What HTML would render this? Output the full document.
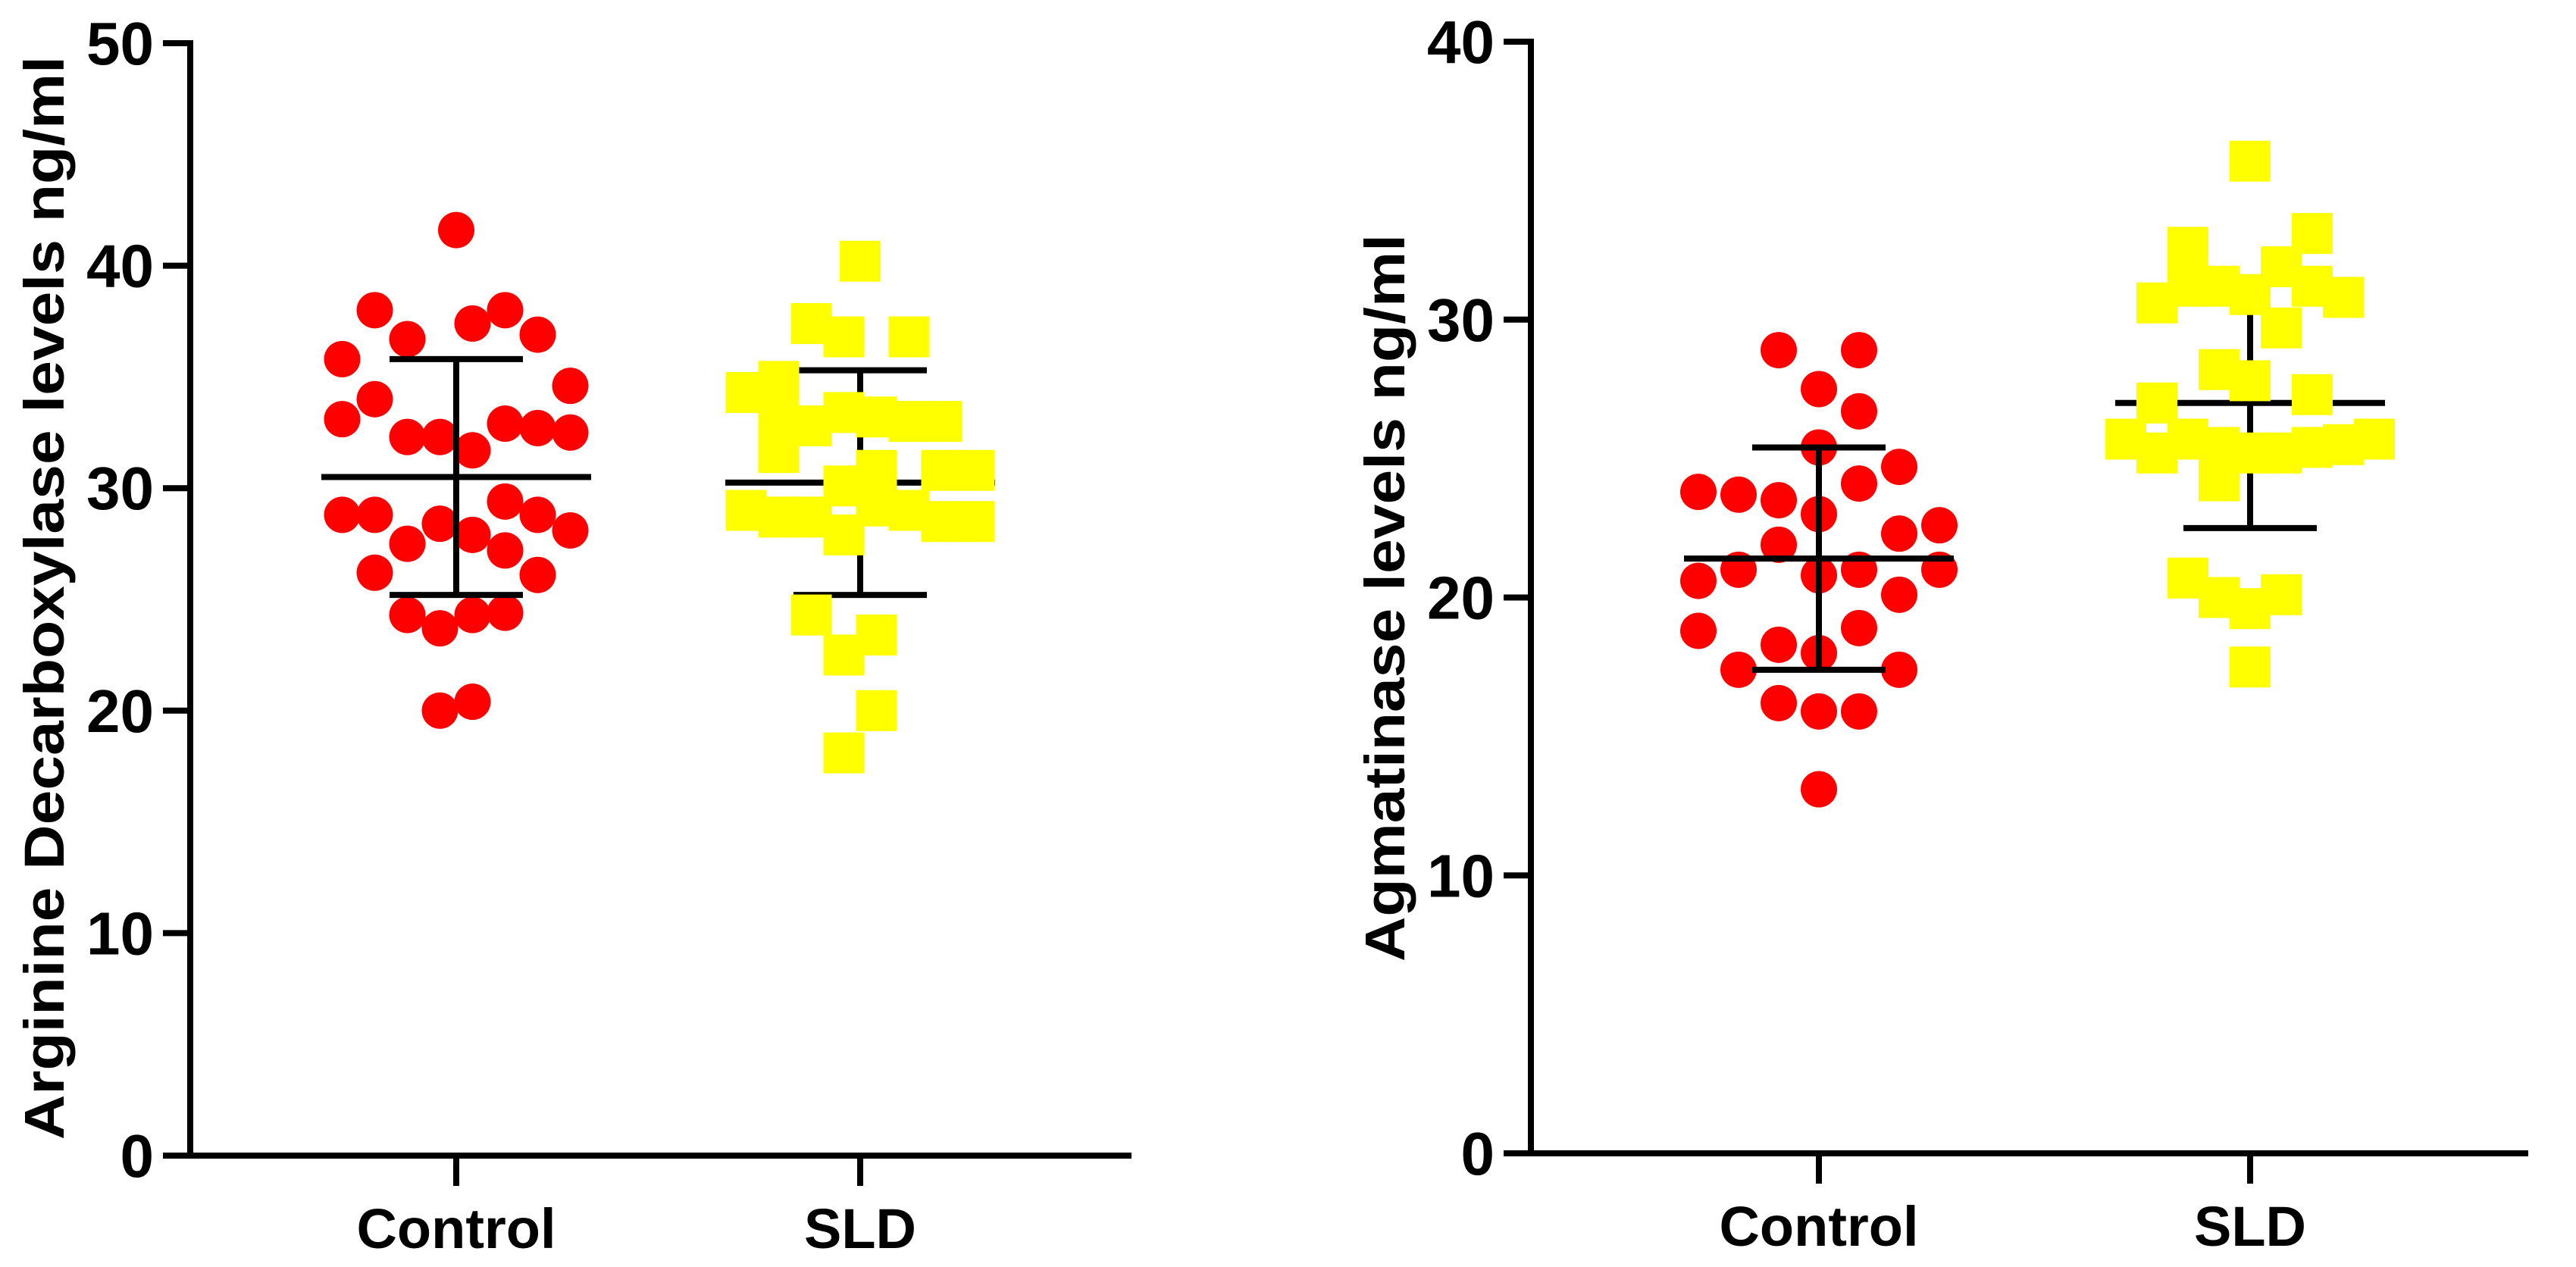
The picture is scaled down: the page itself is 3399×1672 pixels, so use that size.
<!DOCTYPE html>
<html><head><meta charset="utf-8"><style>
html,body{margin:0;padding:0;background:#fff;}
svg{display:block;}
text{font-family:"Liberation Sans",Arial,sans-serif;font-weight:bold;fill:#000;}
</style></head><body>
<svg id="fig" width="3399" height="1672" viewBox="0 0 3399 1672" xmlns="http://www.w3.org/2000/svg">
<g id="p1"></g>
<g id="p2"></g>
</svg>
<script>
// ---- Chart 1 data: Arginine Decarboxylase ----
const adcCategories = ["Control", "SLD"];
const adcYTicks = [0, 10, 20, 30, 40, 50];
const adcControlValues = [41.6,38.0,38.0,37.4,36.7,36.9,35.8,34.0,34.6,33.1,32.9,32.7,32.5,32.3,32.3,31.7,28.8,28.8,28.4,29.4,28.8,28.1,27.5,27.9,27.2,26.2,26.1,24.3,23.7,24.3,24.4,20.0,20.4];
const adcControlSlots = [0,-2.5,1.5,0.5,-1.5,2.5,-3.5,-2.5,3.5,-3.5,1.5,2.5,3.5,-1.5,-0.5,0.5,-3.5,-2.5,-0.5,1.5,2.5,3.5,-1.5,0.5,1.5,-2.5,2.5,-1.5,-0.5,0.5,1.5,-0.5,0.5];
const adcSldValues = [40.2,37.4,36.8,36.8,34.3,34.8,33.0,32.8,33.4,33.2,33.0,33.0,31.6,30.1,30.8,30.8,30.8,29.0,28.7,28.7,27.9,29.2,29.0,28.5,28.5,24.3,23.4,22.5,20.0,18.1];
const adcSldSlots = [0,-1.5,-0.5,1.5,-3.5,-2.5,-2.5,-1.5,-0.5,0.5,1.5,2.5,-2.5,-0.5,0.5,2.5,3.5,-3.5,-2.5,-1.5,-0.5,0.5,1.5,2.5,3.5,-1.5,0.5,-0.5,0.5,-0.5];
const adcMeans = [30.5, 30.25];
const adcSds = [5.3, 5.05];

// ---- Chart 2 data: Agmatinase ----
const agmCategories = ["Control", "SLD"];
const agmYTicks = [0, 10, 20, 30, 40];
const agmControlValues = [28.9,28.9,27.5,26.7,25.4,24.7,24.1,23.8,23.7,23.5,23.0,22.3,22.6,21.9,20.6,21.0,20.8,21.0,21.0,20.1,18.8,18.9,18.3,18.0,17.4,17.4,16.2,15.9,15.9,13.1];
const agmControlSlots = [-1,1,0,1,0,2,1,-3,-2,-1,0,2,3,-1,-3,-2,0,1,3,2,-3,1,-1,0,-2,2,-1,0,1,0];
const agmSldValues = [35.7,32.6,33.1,31.9,30.6,31.2,31.2,30.9,29.7,31.2,30.8,28.2,27.8,27.0,27.3,25.7,25.2,25.7,25.4,25.2,25.2,25.4,25.5,25.7,24.2,20.7,20.0,19.6,20.1,17.5];
const agmSldSlots = [0,-2,2,1,-3,-2,-1,0,1,2,3,-1,0,-3,2,-4,-3,-2,-1,0,1,2,3,4,-1,-2,-1,0,1,0];
const agmMeans = [21.4, 27.0];
const agmSds = [4.0, 4.5];

const NS = "http://www.w3.org/2000/svg";
function mk(parent, tag, attrs, txt){
  const e = document.createElementNS(NS, tag);
  for (const k in attrs) e.setAttribute(k, attrs[k]);
  if (txt !== undefined) e.textContent = txt;
  parent.appendChild(e);
  return e;
}

function drawBar(g, x, m, sd, yScale){
  const yM = yScale(m), yU = yScale(m + sd), yL = yScale(m - sd);
  const ml = mk(g, "line", {x1:x - 178, y1:yM, x2:x + 178, y2:yM, stroke:"#000", "stroke-width":8});
  
  
  const vl = mk(g, "line", {x1:x, y1:yU, x2:x, y2:yL, stroke:"#000", "stroke-width":8});
  
  
  [yU, yL].forEach(yy => {
    const cp = mk(g, "line", {x1:x - 88, y1:yy, x2:x + 88, y2:yy, stroke:"#000", "stroke-width":8});
    
    
  });
}

function drawChart(g, cfg){
  const yScale = v => cfg.y0 - (v - cfg.yMin) / (cfg.yMax - cfg.yMin) * (cfg.y0 - cfg.yTop);
  const ya = mk(g, "line", {x1:cfg.ax, y1:cfg.yTop - 4, x2:cfg.ax, y2:cfg.y0 + 4, stroke:"#000", "stroke-width":8});
  
  
  const xa = mk(g, "line", {x1:cfg.ax - 4, y1:cfg.y0, x2:cfg.xEnd, y2:cfg.y0, stroke:"#000", "stroke-width":8});
  
  
  cfg.yTicks.forEach(t => {
    const y = yScale(t);
    const tk = mk(g, "line", {x1:cfg.ax - 36, y1:y, x2:cfg.ax, y2:y, stroke:"#000", "stroke-width":8});
    
    
    const tl = mk(g, "text", {x:cfg.ax - 48, y:y + 28, "text-anchor":"end", "font-size":80}, String(t));
    
    
  });
  cfg.categories.forEach((c, i) => {
    const x = cfg.catX[i];
    const tk = mk(g, "line", {x1:x, y1:cfg.y0, x2:x, y2:cfg.y0 + 40, stroke:"#000", "stroke-width":8});
    
    
    const tl = mk(g, "text", {x:x, y:cfg.y0 + 122, "text-anchor":"middle", "font-size":74}, c);
    
    
  });
  const tt = mk(g, "text", {x:0, y:0, "text-anchor":"middle", "font-size":74,
    transform:"translate(" + cfg.titleX + "," + cfg.titleY + ") rotate(-90)",
    textLength:cfg.titleLen, lengthAdjust:"spacingAndGlyphs"}, cfg.title);
  
  

  // SLD bar behind its squares
  drawBar(g, cfg.catX[1], cfg.means[1], cfg.sds[1], yScale);

  cfg.ctrlVals.forEach((v, i) => {
    const c = mk(g, "circle", {cx:cfg.catX[0] + cfg.ctrlSlots[i] * cfg.ctrlStep, cy:yScale(v), r:24, fill:"#ff0000"});
    
    
  });
  cfg.sldVals.forEach((v, i) => {
    const s = 54;
    const r = mk(g, "rect", {x:cfg.catX[1] + cfg.sldSlots[i] * cfg.sldStep - s/2, y:yScale(v) - s/2, width:s, height:s, fill:"#ffff00"});
    
    
  });
  // Control bar on top of circles
  drawBar(g, cfg.catX[0], cfg.means[0], cfg.sds[0], yScale);
}

drawChart(document.getElementById("p1"), {
  ax:251, y0:1525, yTop:57, yMin:0, yMax:50, xEnd:1493, catX:[602,1135],
  yTicks:adcYTicks, categories:adcCategories,
  title:"Arginine Decarboxylase levels ng/ml", titleX:84, titleY:789, titleLen:1430,
  ctrlVals:adcControlValues, ctrlSlots:adcControlSlots, ctrlStep:43,
  sldVals:adcSldValues, sldSlots:adcSldSlots, sldStep:43,
  means:adcMeans, sds:adcSds
});
drawChart(document.getElementById("p2"), {
  ax:2020, y0:1522, yTop:55, yMin:0, yMax:40, xEnd:3336, catX:[2400,2969],
  yTicks:agmYTicks, categories:agmCategories,
  title:"Agmatinase levels ng/ml", titleX:1853, titleY:789, titleLen:960,
  ctrlVals:agmControlValues, ctrlSlots:agmControlSlots, ctrlStep:53,
  sldVals:agmSldValues, sldSlots:agmSldSlots, sldStep:41,
  means:agmMeans, sds:agmSds
});
</script>
</body></html>
